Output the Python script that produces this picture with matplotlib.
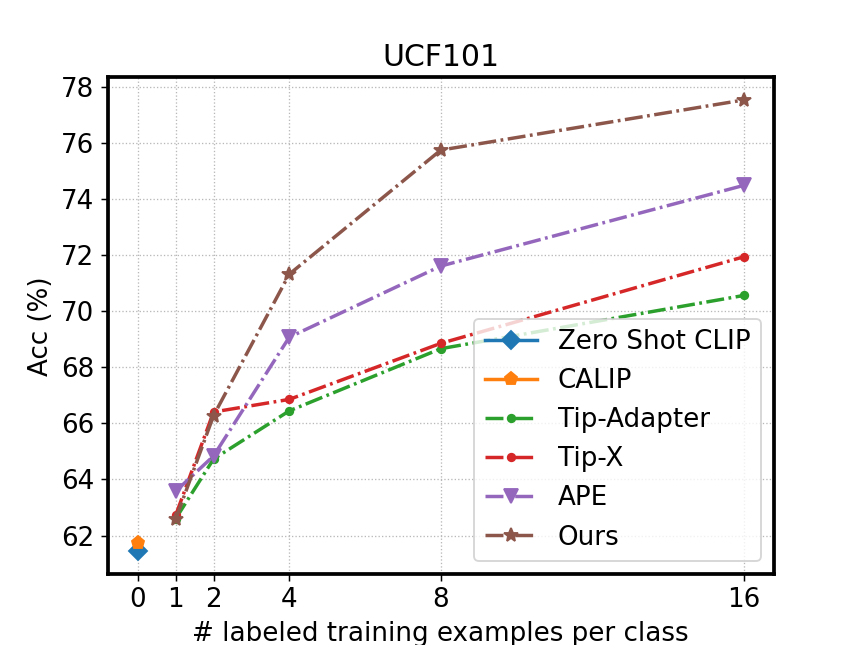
import matplotlib
matplotlib.use("Agg")
import matplotlib.pyplot as plt

shots = [1, 2, 4, 8, 16]
xticks = [0, 1, 2, 4, 8, 16]
zero_shot = 61.43
calip = 61.72
tip_adapter = [62.60, 64.73, 66.45, 68.67, 70.57]
tip_x = [62.72, 66.41, 66.86, 68.86, 71.95]
ape = [63.58, 64.84, 69.08, 71.62, 74.50]
ours = [62.58, 66.28, 71.33, 75.76, 77.55]

plt.rcParams['font.size'] = 14
fig, ax = plt.subplots(figsize=(6.4, 4.8), dpi=134.375)

LW = 1.85
dashdot = (0, (5.2, 1.3, 0.8, 1.3))
ax.plot([0], [zero_shot], marker='D', markersize=7, linestyle='-', lw=LW,
        color='#1f77b4', label='Zero Shot CLIP')
ax.plot([0], [calip], marker='p', markersize=7, linestyle='-', lw=LW,
        color='#ff7f0e', label='CALIP')
ax.plot(shots, tip_adapter, marker='o', markersize=4, linestyle=dashdot, lw=LW,
        color='#2ca02c', label='Tip-Adapter')
ax.plot(shots, tip_x, marker='o', markersize=4, linestyle=dashdot, lw=LW,
        color='#d62728', label='Tip-X')
ax.plot(shots, ape, marker='v', markersize=8, linestyle=dashdot, lw=LW,
        color='#9467bd', label='APE')
ax.plot(shots, ours, marker='*', markersize=7.5, linestyle=dashdot, lw=LW,
        color='#8c564b', label='Ours')

ax.set_xticks(xticks)
ax.set_xticklabels([str(t) for t in xticks])
ax.grid(True, linestyle=':', color='#b8b8b8', lw=0.7)
for s in ax.spines.values():
    s.set_linewidth(2)
ax.set_title('UCF101', fontsize=16)
ax.set_xlabel('# labeled training examples per class', fontsize=14)
ax.set_ylabel('Acc (%)', fontsize=14)
ax.legend(loc='lower right', fontsize=14)

fig.savefig('out.png', dpi=134.375)
